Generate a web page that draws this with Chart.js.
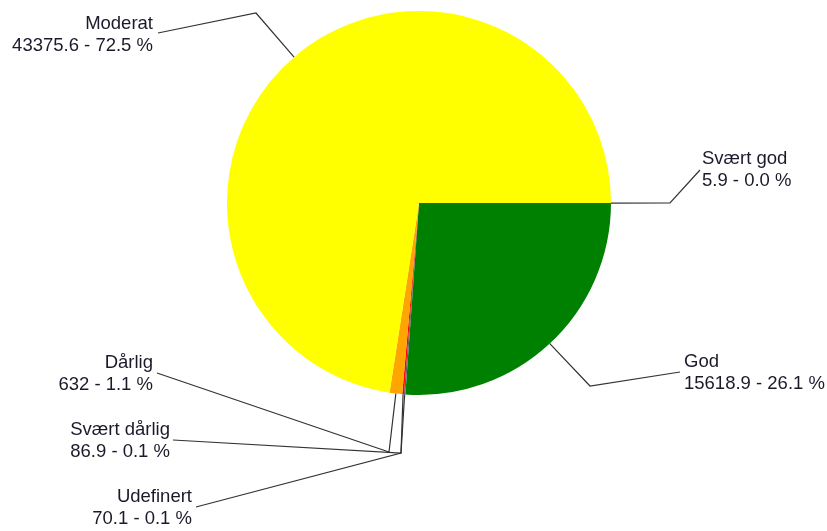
<!DOCTYPE html>
<html>
<head>
<meta charset="utf-8">
<script src="https://cdn.jsdelivr.net/npm/chart.js@4/dist/chart.umd.min.js"></script>
<style>
    body { margin: 0; background: #fff; }
    #wrap { width: 827px; height: 531px; }
</style>
</head>
<body>
<div id="wrap"><canvas id="pie" width="827" height="531"></canvas></div>
<script>
// 분류 / 값
const categories = ['Svært god', 'God', 'Udefinert', 'Svært dårlig', 'Dårlig', 'Moderat'];
const values = [5.9, 15618.9, 70.1, 86.9, 632, 43375.6];
const sliceColors = ['#0000ff', '#008000', '#606060', '#ff0000', '#ffa500', '#ffff00'];

// 라벨 위치 (꺾임점, 선 끝, 텍스트 기준점)
const calloutLayout = [
    {elbow: [670, 203], end: [700, 170], text: [702, 164], align: 'left'},   // Svært god
    {elbow: [590, 386], end: [680, 372], text: [684, 367], align: 'left'},   // God
    {elbow: [401, 453], end: [196, 507], text: [192, 502], align: 'right'},  // Udefinert
    {elbow: [401, 453], end: [173, 440], text: [170, 435], align: 'right'},  // Svært dårlig
    {elbow: [389, 452], end: [157, 373], text: [153, 368], align: 'right'},  // Dårlig
    {elbow: [256, 13], end: [158, 33], text: [153, 29], align: 'right'}      // Moderat
];

const total = values.reduce((a, b) => a + b, 0);

// 조각마다 리더선과 라벨 그리기
const calloutPlugin = {
    id: 'callouts',
    afterDatasetsDraw(chart) {
        const ctx = chart.ctx;
        const arcs = chart.getDatasetMeta(0).data;
        ctx.save();
        arcs.forEach(function (arc, i) {
            const p = arc.getProps(['x', 'y', 'startAngle', 'endAngle', 'outerRadius'], true);
            const mid = (p.startAngle + p.endAngle) / 2;
            const ax = p.x + Math.cos(mid) * p.outerRadius;
            const ay = p.y + Math.sin(mid) * p.outerRadius;
            const lay = calloutLayout[i];

            ctx.strokeStyle = '#333';
            ctx.lineWidth = 1.2;
            ctx.beginPath();
            ctx.moveTo(ax, ay);
            ctx.lineTo(lay.elbow[0], lay.elbow[1]);
            ctx.lineTo(lay.end[0], lay.end[1]);
            ctx.stroke();

            const pct = (values[i] / total * 100).toFixed(1);
            ctx.fillStyle = '#1a1a2a';
            ctx.font = '18.5px "Liberation Sans", Arial, sans-serif';
            ctx.textAlign = lay.align;
            ctx.textBaseline = 'alphabetic';
            ctx.fillText(categories[i], lay.text[0], lay.text[1]);
            ctx.fillText(values[i] + ' - ' + pct + ' %', lay.text[0], lay.text[1] + 22);
        });
        ctx.restore();
    }
};

new Chart(document.getElementById('pie'), {
    type: 'pie',
    data: {
        labels: categories,
        datasets: [{
            data: values,
            backgroundColor: sliceColors,
            borderWidth: 0
        }]
    },
    options: {
        responsive: false,
        animation: false,
        rotation: 90, // 3시 방향에서 시작
        layout: {
            padding: {left: 227, right: 216, top: 11, bottom: 136}
        },
        plugins: {
            legend: {display: false},
            tooltip: {enabled: false}
        }
    },
    plugins: [calloutPlugin]
});
</script>
</body>
</html>
